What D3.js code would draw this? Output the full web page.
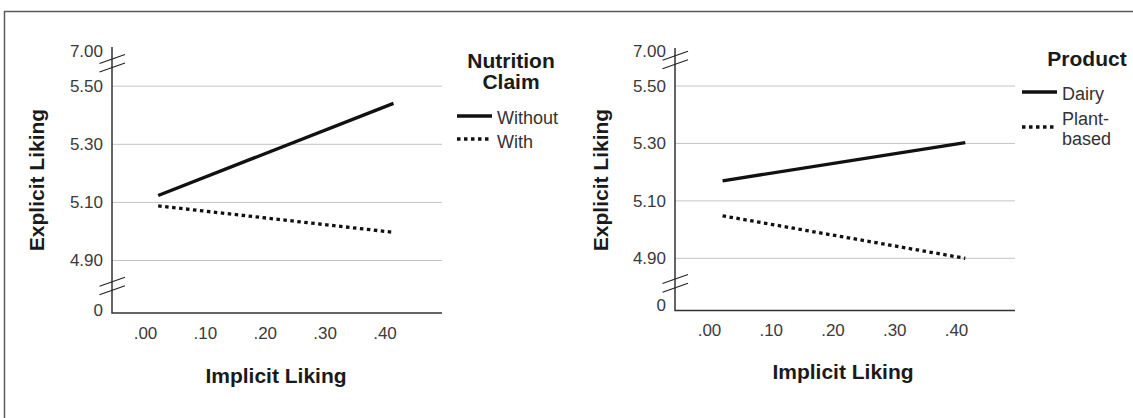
<!DOCTYPE html>
<html>
<head>
<meta charset="utf-8">
<script src="https://cdn.jsdelivr.net/npm/d3@7"></script>
<style>
  body { margin: 0; background: #fff; }
  svg { display: block; font-family: "Liberation Sans", Arial, sans-serif; }
  .tick text { fill: #3a3a3a; font-size: 17px; }
  .ttl { font-weight: bold; fill: #1a1a1a; font-size: 21px; }
  .leg { fill: #333; font-size: 18px; }
</style>
</head>
<body>
<svg id="chart" width="1133" height="418"></svg>
<script>
// tick values shared by both panels
var xTicks = [0, 0.1, 0.2, 0.3, 0.4];
var yTicks = [0, 4.9, 5.1, 5.3, 5.5, 7.0];
var gridTicks = [4.9, 5.1, 5.3, 5.5];
var xSpan = [0.022, 0.415];   // implicit liking low / high

// left panel: nutrition claim
var claimNames = ["Without", "With"];
var claimLow = [5.124, 5.088];
var claimHigh = [5.441, 4.997];

// right panel: product
var productNames = ["Dairy", "Plant-based"];
var productLow = [5.170, 5.048];
var productHigh = [5.303, 4.899];

var svg = d3.select("#chart");

// outer frame (runs off the right and bottom of the picture)
svg.append("rect")
    .attr("x", 4.5).attr("y", 11.5)
    .attr("width", 1300).attr("height", 600)
    .attr("fill", "none")
    .attr("stroke", "#5a5a5a")
    .attr("stroke-width", 1.5);

var dash = "3.5,3.5";

function fmtY(d) {
    return d === 0 ? "0" : d3.format(".2f")(d);
}
function fmtX(d) {
    return d3.format(".2f")(d).replace(/^0/, "");
}

function panel(p) {
    var g = svg.append("g");

    var x = d3.scaleLinear().domain([0, 0.4]).range(p.xr);
    // broken axis: 0 .. 4.90 and 5.50 .. 7.00 are squeezed
    var y = d3.scaleLinear().domain([0, 4.9, 5.5, 7.0]).range(p.yr);

    // gridlines
    g.selectAll(".grid")
        .data(gridTicks)
        .enter().append("line")
        .attr("x1", p.left).attr("x2", p.right)
        .attr("y1", function(d) { return y(d); })
        .attr("y2", function(d) { return y(d); })
        .attr("stroke", "#c4c4c4")
        .attr("stroke-width", 1);

    // axes
    var ya = g.append("g")
        .attr("transform", "translate(" + p.left + ",0)")
        .call(d3.axisLeft(y).tickValues(yTicks).tickSize(0).tickPadding(9).tickFormat(fmtY));
    ya.select(".domain").remove();
    ya.selectAll("text").attr("font-family", null).attr("font-size", null);

    var xa = g.append("g")
        .attr("transform", "translate(0," + p.bottom + ")")
        .call(d3.axisBottom(x).tickValues(xTicks).tickSize(0).tickFormat(fmtX));
    xa.select(".domain").remove();
    xa.selectAll("text").attr("font-family", null).attr("font-size", null)
        .attr("y", 20).attr("dy", "0.35em");

    // axis lines
    g.append("path")
        .attr("d", "M" + p.left + "," + p.top + "V" + p.bottom + "H" + p.right)
        .attr("fill", "none")
        .attr("stroke", "#333")
        .attr("stroke-width", 1.5);

    // break marks
    p.breaks.forEach(function(b) {
        [-4.3, 4.3].forEach(function(o) {
            g.append("line")
                .attr("x1", p.left - 12.5).attr("y1", b + o + 4.5)
                .attr("x2", p.left + 13).attr("y2", b + o - 4.5)
                .attr("stroke", "#222")
                .attr("stroke-width", 1.1);
        });
    });

    // lines
    p.names.forEach(function(n, i) {
        var pts = [[xSpan[0], p.low[i]], [xSpan[1], p.high[i]]];
        g.append("path")
            .datum(pts)
            .attr("d", d3.line().x(function(d) { return x(d[0]); }).y(function(d) { return y(d[1]); }))
            .attr("fill", "none")
            .attr("stroke", "#111")
            .attr("stroke-width", 3.3)
            .attr("stroke-dasharray", i === 1 ? dash : null);
    });

    // axis titles
    g.append("text")
        .attr("class", "ttl")
        .attr("x", p.xt[0]).attr("y", p.xt[1])
        .attr("dy", "0.35em")
        .attr("text-anchor", "middle")
        .text("Implicit Liking");
    g.append("text")
        .attr("class", "ttl")
        .attr("transform", "translate(" + p.yt[0] + "," + p.yt[1] + ") rotate(-90)")
        .attr("dy", "0.35em")
        .attr("text-anchor", "middle")
        .text("Explicit Liking");

    // legend
    var lg = g.append("g");
    p.legTitle.forEach(function(t, i) {
        lg.append("text")
            .attr("class", "ttl")
            .attr("x", p.legTitleX).attr("y", p.legTitleY[i])
            .attr("dy", "0.35em")
            .attr("text-anchor", "middle")
            .text(t);
    });
    p.names.forEach(function(n, i) {
        lg.append("line")
            .attr("x1", p.legX).attr("x2", p.legX + 35)
            .attr("y1", p.legY[i]).attr("y2", p.legY[i])
            .attr("stroke", "#111")
            .attr("stroke-width", 3.3)
            .attr("stroke-dasharray", i === 1 ? dash : null);
        p.legText[i].forEach(function(t, j) {
            lg.append("text")
                .attr("class", "leg")
                .attr("x", p.legX + 40)
                .attr("y", p.legTextY[i][j])
                .attr("dy", "0.35em")
                .text(t);
        });
    });
}

panel({
    left: 112, right: 442, top: 47, bottom: 313,
    xr: [145, 384.5], yr: [310, 260.5, 86.2, 51],
    breaks: [63.3, 286],
    names: claimNames, low: claimLow, high: claimHigh,
    xt: [276, 376], yt: [37, 180],
    legTitle: ["Nutrition", "Claim"], legTitleX: 511, legTitleY: [61, 82],
    legX: 457, legY: [116, 139],
    legText: [["Without"], ["With"]], legTextY: [[117.5], [141.5]]
});

panel({
    left: 675, right: 1015, top: 48, bottom: 310.5,
    xr: [709, 956], yr: [305, 258.3, 86, 50.7],
    breaks: [60, 283.4],
    names: productNames, low: productLow, high: productHigh,
    xt: [843, 372], yt: [601, 180],
    legTitle: ["Product"], legTitleX: 1087, legTitleY: [59],
    legX: 1022, legY: [92, 127],
    legText: [["Dairy"], ["Plant-", "based"]], legTextY: [[94], [119, 139]]
});
</script>
</body>
</html>
